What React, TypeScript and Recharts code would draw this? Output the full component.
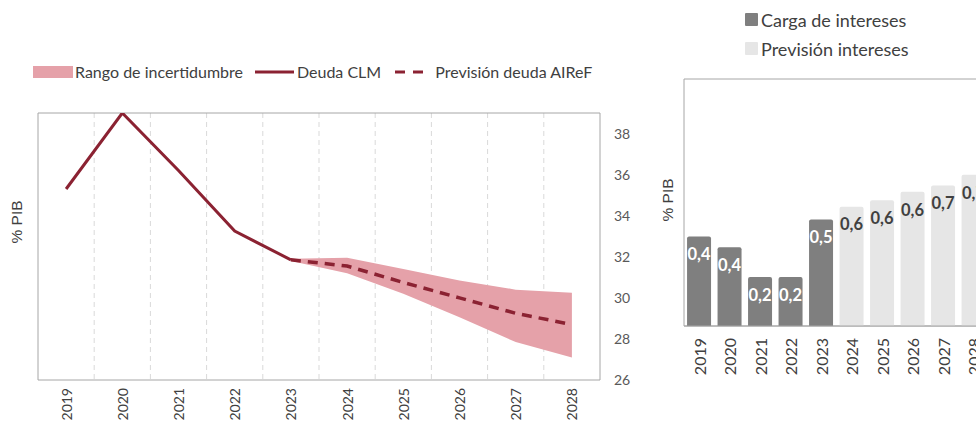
import React from 'react';
import {
  ComposedChart, Line, Area, XAxis, YAxis, CartesianGrid, ReferenceArea,
  BarChart, Bar, LabelList,
} from 'recharts';

// Años (comunes a los dos gráficos)
const years = [2019, 2020, 2021, 2022, 2023, 2024, 2025, 2026, 2027, 2028];

// Deuda CLM (% PIB)
const deudaCLM = [35.3, 39.0, 36.2, 33.25, 31.85, null, null, null, null, null];
const prevDeuda = [null, null, null, null, 31.85, 31.55, 30.75, 30.0, 29.25, 28.7];
const rangoMin = [null, null, null, null, 31.8, 31.2, 30.2, 29.05, 27.85, 27.1];
const rangoMax = [null, null, null, null, 31.9, 31.95, 31.4, 30.85, 30.4, 30.25];
const deudaTicks = [26, 28, 30, 32, 34, 36, 38];

// Carga de intereses (% PIB)
const cargaIntereses = [0.42, 0.37, 0.23, 0.23, 0.5, null, null, null, null, null];
const prevIntereses = [null, null, null, null, null, 0.56, 0.59, 0.63, 0.66, 0.71];

const RED = '#8b2232';
const PINK = '#e5a1a9';
const DARK_BAR = '#7f7f7f';
const LIGHT_BAR = '#e6e6e6';
const TEXT = '#404040';
const BORDER = '#a6a6a6';
const FONT = 'Lato, "Open Sans", sans-serif';

const deudaData = years.map((year, i) => ({
  year,
  clm: deudaCLM[i],
  prevision: prevDeuda[i],
  rango: rangoMin[i] == null ? null : [rangoMin[i], rangoMax[i]],
}));

const interesesData = years.map((year, i) => ({
  year: String(year),
  carga: cargaIntereses[i],
  prevision: prevIntereses[i],
}));

const fmtComma = (v: any) => (v == null ? '' : Number(v).toFixed(1).replace('.', ','));

// rotated year labels
const YearTick = (props: any) => {
  const { x, y, payload, fontSize = 14 } = props;
  return (
    <text
      x={x}
      y={y}
      transform={`rotate(-90, ${x}, ${y})`}
      textAnchor="end"
      dominantBaseline="central"
      fontSize={fontSize}
      fontFamily={FONT}
      fill={TEXT}
    >
      {payload.value}
    </text>
  );
};

const leftLegend = [
  { label: 'Rango de incertidumbre', kind: 'area' },
  { label: 'Deuda CLM', kind: 'line' },
  { label: 'Previsión deuda AIReF', kind: 'dash' },
];

const rightLegend = [
  { label: 'Carga de intereses', color: DARK_BAR },
  { label: 'Previsión intereses', color: LIGHT_BAR },
];

const Swatch = ({ kind }: { kind: string }) => (
  <svg width={40} height={12} style={{ display: 'block' }}>
    {kind === 'area' && <rect x={0} y={0} width={40} height={12} fill={PINK} />}
    {kind === 'line' && <line x1={0} y1={6} x2={39} y2={6} stroke={RED} strokeWidth={3} />}
    {kind === 'dash' && (
      <line x1={2} y1={6} x2={38} y2={6} stroke={RED} strokeWidth={3} strokeDasharray="10 8" />
    )}
  </svg>
);

const yLabel = (left: number, top: number) => (
  <div
    style={{
      position: 'absolute',
      left,
      top,
      transform: 'translate(-50%, -50%) rotate(-90deg)',
      fontFamily: '"Liberation Sans", Arial, sans-serif',
      fontSize: 15.5,
      color: TEXT,
      whiteSpace: 'nowrap',
    }}
  >
    % PIB
  </div>
);

export default function App() {
  return (
    <div
      style={{
        position: 'absolute',
        left: 0,
        top: 0,
        width: 976,
        height: 423,
        overflow: 'hidden',
        background: '#fff',
        fontFamily: FONT,
      }}
    >
      {/* Gráfico izquierdo: deuda */}
      <div style={{ position: 'absolute', left: 0, top: 0 }}>
        <ComposedChart
          width={640}
          height={423}
          data={deudaData}
          margin={{ top: 113, right: 0, bottom: 0, left: 38 }}
        >
          <CartesianGrid
            horizontal={false}
            verticalValues={years.slice(1).map((y) => y - 0.5)}
            stroke="#d9d9d9"
            strokeDasharray="5 4"
          />
          <XAxis
            dataKey="year"
            type="number"
            domain={[2018.5, 2028.5]}
            ticks={years}
            interval={0}
            height={43}
            axisLine={false}
            tickLine={false}
            tick={(p: any) => <YearTick {...p} fontSize={14} />}
            allowDataOverflow
          />
          <YAxis
            orientation="right"
            domain={[26, 39]}
            ticks={deudaTicks}
            width={40}
            axisLine={false}
            tickLine={false}
            tickMargin={8}
            tick={{ fontSize: 14, fill: '#595959', fontFamily: FONT }}
            allowDataOverflow
          />
          <ReferenceArea
            x1={2018.5}
            x2={2028.5}
            y1={26}
            y2={39}
            fill="none"
            fillOpacity={0}
            stroke={BORDER}
            strokeWidth={1}
          />
          <Area
            dataKey="rango"
            fill={PINK}
            fillOpacity={1}
            stroke="none"
            isAnimationActive={false}
            connectNulls={false}
          />
          <Line
            dataKey="clm"
            stroke={RED}
            strokeWidth={3}
            dot={false}
            activeDot={false}
            isAnimationActive={false}
          />
          <Line
            dataKey="prevision"
            stroke={RED}
            strokeWidth={3.5}
            strokeDasharray="10 7"
            dot={false}
            activeDot={false}
            isAnimationActive={false}
          />
        </ComposedChart>
      </div>

      <div
        style={{
          position: 'absolute',
          left: 33,
          top: 62,
          display: 'flex',
          alignItems: 'center',
          fontSize: 16,
          color: TEXT,
          whiteSpace: 'nowrap',
        }}
      >
        {leftLegend.map((item, i) => (
          <div key={item.label} style={{ display: 'flex', alignItems: 'center', marginLeft: i === 0 ? 0 : 12 }}>
            <Swatch kind={item.kind} />
            <span style={{ marginLeft: 2 }}>{item.label}</span>
          </div>
        ))}
      </div>
      {yLabel(17, 222)}

      {/* Gráfico derecho: intereses */}
      <div style={{ position: 'absolute', left: 640, top: 0 }}>
        <BarChart
          width={360}
          height={423}
          data={interesesData}
          margin={{ top: 79, right: 11, bottom: 0, left: 44 }}
          barCategoryGap="10%"
        >
          <XAxis
            dataKey="year"
            interval={0}
            height={97}
            tickLine={false}
            tickSize={6}
            tickMargin={6}
            axisLine={{ stroke: BORDER }}
            tick={(p: any) => <YearTick {...p} fontSize={16} />}
          />
          <YAxis hide domain={[0, 1.16]} allowDataOverflow />
          <ReferenceArea
            x1="2019"
            x2="2028"
            y1={0}
            y2={1.16}
            fill="none"
            fillOpacity={0}
            stroke={BORDER}
          />
          <Bar dataKey="carga" stackId="i" fill={DARK_BAR} radius={[2, 2, 0, 0]} isAnimationActive={false}>
            <LabelList
              dataKey="carga"
              position="insideTop"
              offset={12}
              formatter={fmtComma}
              fill="#fff"
              fontSize={16.5}
              fontWeight="bold"
              fontFamily={FONT}
            />
          </Bar>
          <Bar dataKey="prevision" stackId="i" fill={LIGHT_BAR} radius={[2, 2, 0, 0]} isAnimationActive={false}>
            <LabelList
              dataKey="prevision"
              position="insideTop"
              offset={12}
              formatter={fmtComma}
              fill={TEXT}
              fontSize={16.5}
              fontWeight="bold"
              fontFamily={FONT}
            />
          </Bar>
        </BarChart>
      </div>

      <div style={{ position: 'absolute', left: 745, top: 5, fontSize: 18, color: TEXT, whiteSpace: 'nowrap' }}>
        {rightLegend.map((item) => (
          <div key={item.label} style={{ display: 'flex', alignItems: 'center', height: 29 }}>
            <span style={{ width: 13, height: 13, background: item.color, borderRadius: 1, display: 'inline-block' }} />
            <span style={{ marginLeft: 3 }}>{item.label}</span>
          </div>
        ))}
      </div>
      {yLabel(668, 200)}
    </div>
  );
}
